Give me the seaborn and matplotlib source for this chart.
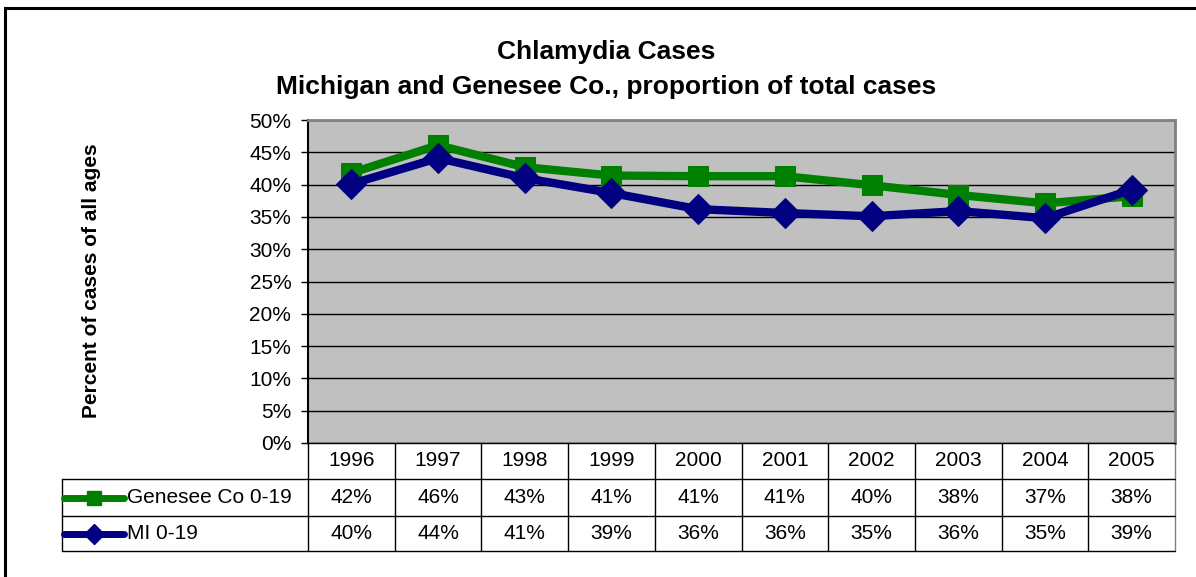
import numpy as np
import pandas as pd
import seaborn as sns
import matplotlib.pyplot as plt
from matplotlib.lines import Line2D
from matplotlib.patches import Rectangle

years = ["1996", "1997", "1998", "1999", "2000", "2001", "2002", "2003", "2004", "2005"]
genesee = [41.8, 46.1, 42.7, 41.4, 41.3, 41.3, 39.9, 38.4, 37.1, 38.2]
michigan = [40.1, 44.1, 41.0, 38.7, 36.2, 35.6, 35.1, 35.9, 34.8, 39.2]
series_names = ["Genesee Co 0-19", "MI 0-19"]
series_colors = ["#008000", "#000080"]
series_markers = ["s", "D"]
yticks = np.arange(0, 51, 5)

sns.set_style("white")
plt.rcParams["font.family"] = ["Liberation Sans", "DejaVu Sans"]
plt.rcParams["text.color"] = "black"
plt.rcParams["ytick.color"] = "black"
plt.rcParams["ytick.labelcolor"] = "black"

W, H = 1196, 577
fig = plt.figure(figsize=(W / 100, H / 100), dpi=100)
ax_l, ax_r, ax_t, ax_b = 308, 1175, 120, 443
ax = fig.add_axes([ax_l / W, 1 - ax_b / H, (ax_r - ax_l) / W, (ax_b - ax_t) / H])
ax.set_facecolor("#C0C0C0")

pos = np.arange(len(years))
df = pd.DataFrame({"pos": np.tile(pos, 2),
                   "value": genesee + michigan,
                   "series": np.repeat(series_names, len(years))})

for name, col, mk in zip(series_names, series_colors, series_markers):
    sub = df[df["series"] == name]
    sns.lineplot(data=sub, x="pos", y="value", ax=ax, color=col, marker=mk,
                 markersize=15 if mk == "s" else 15, markeredgecolor=col,
                 linewidth=6, legend=False, zorder=3)

ax.set_xlim(-0.5, len(years) - 0.5)
ax.set_ylim(0, 50)
ax.set_yticks(yticks)
ax.set_yticklabels([f"{v}%" for v in yticks], fontsize=15, color="black")
ax.set_xticks([])
ax.set_xlabel("")
ax.set_ylabel("")
ax.grid(axis="y", color="black", linewidth=1)
ax.set_axisbelow(True)
ax.tick_params(axis="y", direction="out", length=5, width=1, color="black", pad=7, left=True)
for s in ["top", "right"]:
    ax.spines[s].set_color("#808080")
    ax.spines[s].set_linewidth(2)
ax.spines["left"].set_color("black")
ax.spines["left"].set_linewidth(1.5)
ax.spines["bottom"].set_color("black")
ax.spines["bottom"].set_linewidth(1)

# titles
fig.text(606 / W, 1 - 52 / H, "Chlamydia Cases", ha="center", va="center",
         fontsize=19, fontweight="bold", color="black")
fig.text(606 / W, 1 - 87 / H, "Michigan and Genesee Co., proportion of total cases",
         ha="center", va="center", fontsize=19, fontweight="bold", color="black")
fig.text(92 / W, 1 - 281 / H, "Percent of cases of all ages", rotation=90,
         ha="center", va="center", fontsize=15, fontweight="bold", color="black")

# data table below the plot
tr = ax.get_xaxis_transform()
axh = ax_b - ax_t
colw = (ax_r - ax_l) / len(years)


def px2x(px):
    return -0.5 + (px - ax_l) / colw


def py2y(py):
    return -(py - ax_b) / axh


y_hdr, y_r1, y_r2 = py2y(479), py2y(516), py2y(551)
x_left = px2x(62)
kw = dict(transform=tr, clip_on=False, color="black", linewidth=1)

for i in range(len(years) + 1):
    xb = i - 0.5
    c = "#808080" if i == len(years) else "black"
    ax.add_line(Line2D([xb, xb], [0, y_r2], **{**kw, "color": c}))
ax.add_line(Line2D([x_left, x_left], [y_hdr, y_r2], **kw))
for yy in [y_hdr, y_r1, y_r2]:
    ax.add_line(Line2D([x_left, len(years) - 0.5], [yy, yy], **kw))

for i, yr in enumerate(years):
    ax.text(i, py2y(461), yr, transform=tr, ha="center", va="center", fontsize=15,
            color="black")

rows = [genesee, michigan]
row_centers = [py2y(497.5), py2y(533.5)]
for vals, yc, name, col, mk in zip(rows, row_centers, series_names, series_colors, series_markers):
    for i, v in enumerate(vals):
        ax.text(i, yc, f"{round(v)}%", transform=tr, ha="center", va="center",
                fontsize=15, color="black")
    ax.add_line(Line2D([px2x(64), px2x(124)], [yc, yc], transform=tr, clip_on=False,
                       color=col, linewidth=5))
    ax.add_line(Line2D([px2x(94)], [yc], transform=tr, clip_on=False, color=col,
                       marker=mk, markersize=10, markeredgecolor=col, linestyle="none"))
    ax.text(px2x(127), yc, name, transform=tr, ha="left", va="center", fontsize=15,
            color="black")

# chart area frame
fig.patches.append(Rectangle((5 / W, -0.1), 1.2, 1.1 - 8 / H, transform=fig.transFigure,
                             fill=False, edgecolor="black", linewidth=2.2))

fig.savefig("out.png", dpi=100)
